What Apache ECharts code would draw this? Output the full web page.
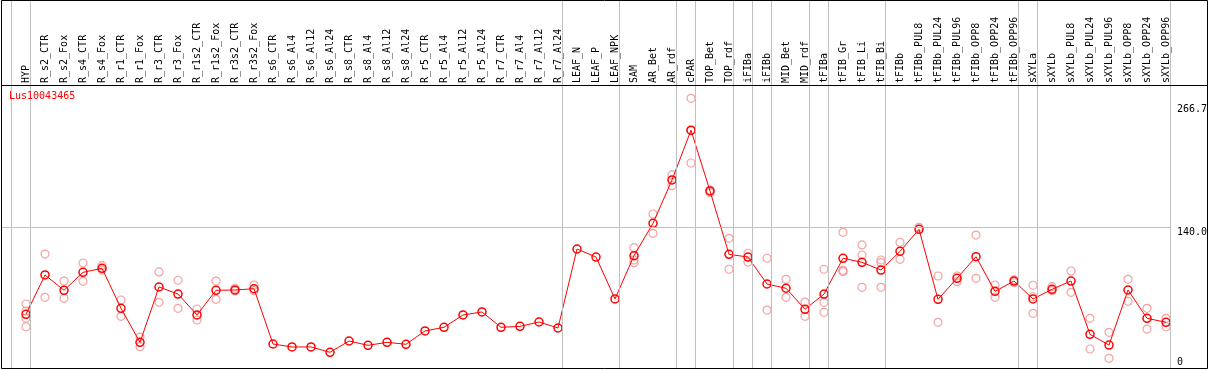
<!DOCTYPE html>
<html><head><meta charset="utf-8">
<script src="https://cdn.jsdelivr.net/npm/echarts@6/dist/echarts.min.js"></script>
<style>html,body{margin:0;padding:0;background:#fff}#c{width:1209px;height:370px}</style>
</head><body><div id="c"></div>
<script>
const geneName = 'Lus10043465';
const categories = ['HYP','R_s2_CTR','R_s2_Fox','R_s4_CTR','R_s4_Fox','R_r1_CTR','R_r1_Fox','R_r3_CTR','R_r3_Fox','R_r1s2_CTR','R_r1s2_Fox','R_r3s2_CTR','R_r3s2_Fox','R_s6_CTR','R_s6_Al4','R_s6_Al12','R_s6_Al24','R_s8_CTR','R_s8_Al4','R_s8_Al12','R_s8_Al24','R_r5_CTR','R_r5_Al4','R_r5_Al12','R_r5_Al24','R_r7_CTR','R_r7_Al4','R_r7_Al12','R_r7_Al24','LEAF_N','LEAF_P','LEAF_NPK','SAM','AR_Bet','AR_rdf','cPAR','TOP_Bet','TOP_rdf','iFIBa','iFIBb','MID_Bet','MID_rdf','tFIBa','tFIB_Gr','tFIB_Li','tFIB_Bi','tFIBb','tFIBb_PUL8','tFIBb_PUL24','tFIBb_PUL96','tFIBb_OPP8','tFIBb_OPP24','tFIBb_OPP96','sXYLa','sXYLb','sXYLb_PUL8','sXYLb_PUL24','sXYLb_PUL96','sXYLb_OPP8','sXYLb_OPP24','sXYLb_OPP96'];
const means = [49.5,90.3,74.4,93.0,97.2,55.7,20.4,77.8,70.5,48.8,74.4,74.7,76.0,18.7,15.6,15.6,10.1,21.8,17.3,20.4,18.4,32.2,36.0,48.8,51.9,36.0,37.0,41.5,35.3,117.2,108.9,65.4,110.3,143.9,188.8,240.4,177.4,111.7,108.9,80.9,76.5,54.7,70.5,107.6,103.4,95.4,114.8,137.6,65.0,86.8,109.2,73.3,84.0,65.4,75.4,84.0,28.7,17.6,74.7,45.3,41.2];
const replicates = [
  [60.2,52.9,45.3,36.6],[112.0,67.1],[84.0,66.1],[102.7,83.7],[99.9,95.4],[64.3,47.4],[25.9,15.9],[93.4,61.9],[84.8,55.7],[55.0,43.6],[84.0,65.0],[76.5,73.7],[79.9,74.0],
  [],[],[],[],[],[],[],[],[],[],[],[],[],[],[],[],
  [],[],[],
  [118.6,105.8,103.0],[153.5,133.5],[194.0,182.9],[273.5,206.4,240.0],[178.4,175.6],[128.3,96.2],[112.8,103.7],[107.6,53.9],[85.8,67.1],[62.2,47.4],[96.2,61.9,51.6],[134.5,95.1,93.7],[121.4,111.0,77.5],[105.8,103.0,77.5],
  [124.2,106.5],[139.7],[89.2,41.2],[89.2,83.3],[131.7,86.8],[79.9,67.1],[85.1,82.3],
  [79.6,67.7,50.5],[78.1,74.0],[94.4,72.3],[45.3,13.5],[30.8,3.8],[85.8,63.0],[55.7,34.2],[45.3,36.6]
];
const groupEnds = [-1,0,28,31,34,35,37,38,39,41,42,45,52,53,60];
const yTickValues = [0, 140, 266.7];
const yTickLabels = ['0', '140.0', '266.7'];
const gridLineValue = 140;

const X_MIN = -1.3158, X_MAX = 60.2105;
const Y_MIN = -6.2, Y_MAX = 287.3;
const FONT = 'DejaVu Sans Mono';

const repData = [];
replicates.forEach((arr, i) => arr.forEach(v => repData.push([i, v])));
const meanData = means.map((v, i) => [i, v]);
const idx = categories.map((_, i) => i);

const chart = echarts.init(document.getElementById('c'), null, {renderer: 'canvas'});
chart.setOption({
  animation: false,
  backgroundColor: '#fff',
  title: {text: geneName, left: 9, top: 91, padding: 0,
    textStyle: {color: '#ff0000', fontSize: 10, fontFamily: FONT, fontWeight: 'normal'}},
  grid: [
    {left: 1, right: 39, top: 0, bottom: 2},
    {left: 1, right: 39, top: 85, bottom: 2}
  ],
  xAxis: [
    {gridIndex: 0, type: 'value', min: X_MIN, max: X_MAX, show: false},
    {gridIndex: 1, type: 'value', min: X_MIN, max: X_MAX, position: 'top',
      axisLine: {show: false}, axisTick: {show: false}, splitLine: {show: false},
      axisLabel: {customValues: idx, rotate: 90, margin: 2, color: '#000', fontSize: 10, fontFamily: FONT,
        formatter: v => categories[Math.round(v)] || ''}}
  ],
  yAxis: [
    {gridIndex: 0, type: 'value', min: 0, max: 1, show: false},
    {gridIndex: 1, type: 'value', min: Y_MIN, max: Y_MAX, position: 'right',
      axisLine: {show: false}, axisTick: {show: false}, splitLine: {show: false}, axisLabel: {show: false}}
  ],
  series: [
    {type: 'line', xAxisIndex: 0, yAxisIndex: 0, data: [], silent: true,
      markLine: {silent: true, symbol: ['none', 'none'], label: {show: false},
        lineStyle: {color: '#c0c0c0', width: 1, type: 'solid'},
        data: groupEnds.map(k => ({xAxis: Math.min(k + 0.237, X_MAX)}))}},
    {type: 'scatter', xAxisIndex: 1, yAxisIndex: 1, data: repData, symbol: 'circle', symbolSize: 8,
      itemStyle: {color: 'rgba(0,0,0,0)', borderColor: '#f08c8c', borderWidth: 1.2}, z: 2,
      markLine: {silent: true, symbol: ['none', 'none'], label: {show: false},
        lineStyle: {color: '#c0c0c0', width: 1, type: 'solid'}, data: [{yAxis: gridLineValue}]}},
    {type: 'line', xAxisIndex: 1, yAxisIndex: 1, data: meanData, symbol: 'circle', symbolSize: 8, showAllSymbol: true,
      lineStyle: {color: '#ff0000', width: 1}, itemStyle: {color: 'rgba(0,0,0,0)', borderColor: '#ff0000', borderWidth: 1.5}, z: 3}
  ]
});

const labelGraphics = yTickValues.map((v, i) => {
  const py = chart.convertToPixel({yAxisIndex: 1}, v);
  const top = Math.min(py, 357);
  return {type: 'text', x: 1177, y: top, style: {text: yTickLabels[i], fill: '#000', font: '10px "' + FONT + '"', textVerticalAlign: 'top', textAlign: 'left'}};
});
chart.setOption({graphic: [
  {type: 'rect', shape: {x: 1.5, y: 0.5, width: 1206, height: 368}, style: {fill: 'none', stroke: '#000', lineWidth: 1}, z: 10},
  {type: 'line', shape: {x1: 1, y1: 85.5, x2: 1207, y2: 85.5}, style: {stroke: '#000', lineWidth: 1}, z: 10}
].concat(labelGraphics)});
</script></body></html>
